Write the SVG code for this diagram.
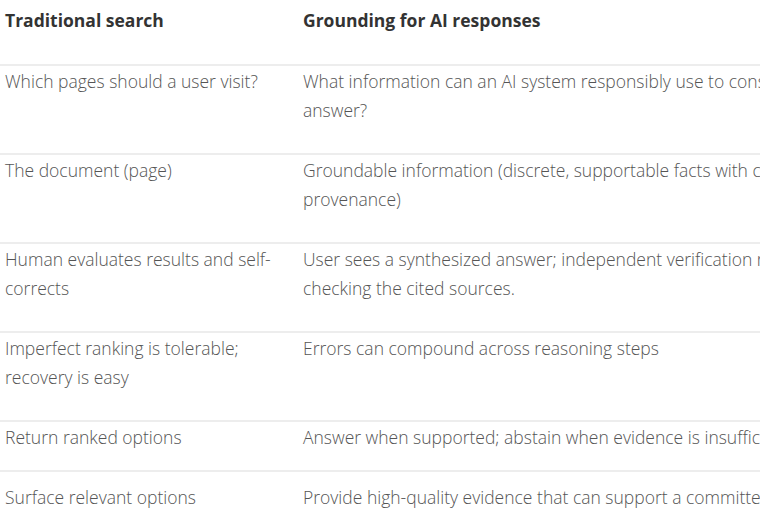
<svg xmlns="http://www.w3.org/2000/svg" width="760" height="520" viewBox="0 0 760 520">
<style>
text{font-family:"Open Sans","Noto Sans",sans-serif;font-size:17.5px;fill:#555;font-weight:300}
.h{font-weight:bold;fill:#333;font-size:17.5px}
.rule{stroke:#dcdcdc;stroke-width:1.2}
</style>
<rect width="760" height="520" fill="#fff"/>
<g id="rules">
<line class="rule" x1="0" y1="65" x2="760" y2="65"/>
<line class="rule" x1="0" y1="154" x2="760" y2="154"/>
<line class="rule" x1="0" y1="243" x2="760" y2="243"/>
<line class="rule" x1="0" y1="332" x2="760" y2="332"/>
<line class="rule" x1="0" y1="421" x2="760" y2="421"/>
<line class="rule" x1="0" y1="471" x2="760" y2="471"/>
</g>
<g id="header">
<text class="h" x="5" y="27">Traditional search</text>
<text class="h" x="303" y="27">Grounding for AI responses</text>
</g>
<g id="row1">
<text x="5" y="88">Which pages should a user visit?</text>
<text x="303" y="88">What information can an AI system responsibly use to construct an</text>
<text x="303" y="117">answer?</text>
</g>
<g id="row2">
<text x="5" y="177">The document (page)</text>
<text x="303" y="177">Groundable information (discrete, supportable facts with clear</text>
<text x="303" y="206">provenance)</text>
</g>
<g id="row3">
<text x="5" y="266">Human evaluates results and self-</text>
<text x="5" y="295">corrects</text>
<text x="303" y="266">User sees a synthesized answer; independent verification requires</text>
<text x="303" y="295">checking the cited sources.</text>
</g>
<g id="row4">
<text x="5" y="355">Imperfect ranking is tolerable;</text>
<text x="5" y="384">recovery is easy</text>
<text x="303" y="355">Errors can compound across reasoning steps</text>
</g>
<g id="row5">
<text x="5" y="444">Return ranked options</text>
<text x="303" y="444">Answer when supported; abstain when evidence is insufficient</text>
</g>
<g id="row6">
<text x="5" y="504">Surface relevant options</text>
<text x="303" y="504">Provide high-quality evidence that can support a committed answer</text>
</g>
</svg>
